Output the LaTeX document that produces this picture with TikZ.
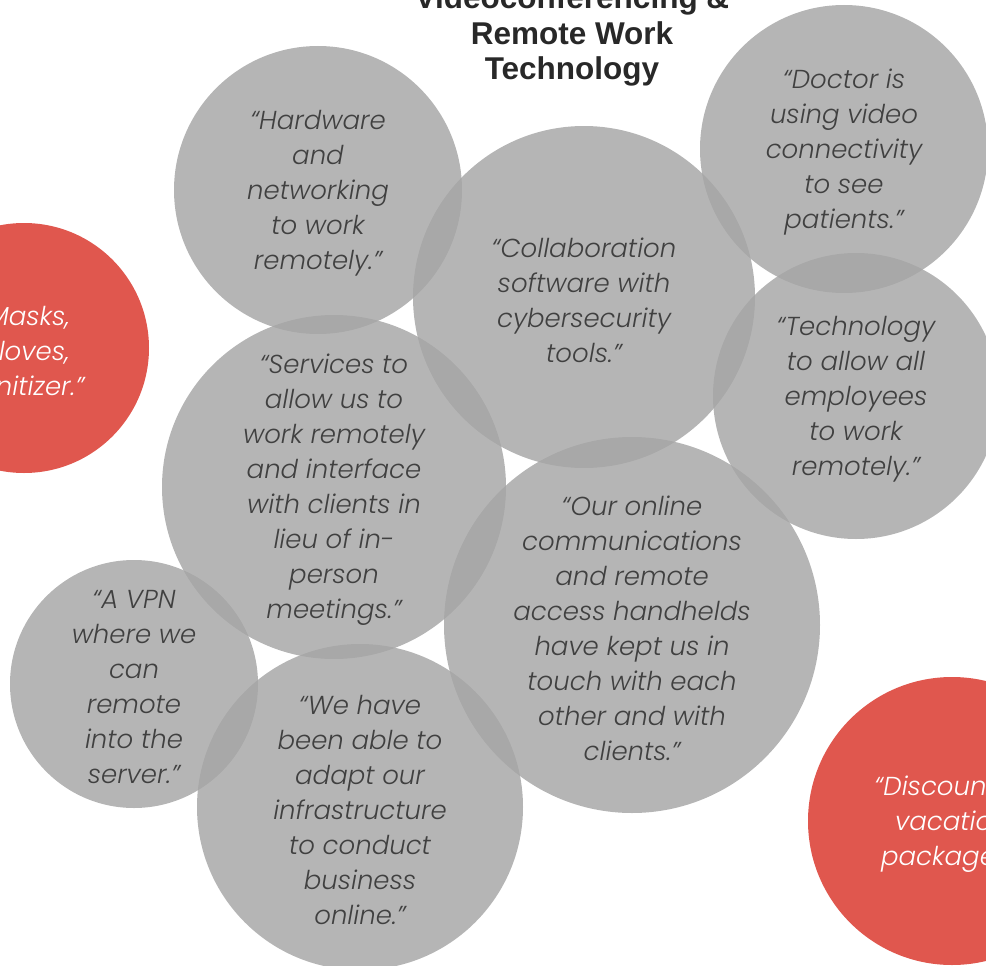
\documentclass[tikz,border=0pt]{standalone}
\usepackage{fontspec}
\setmainfont{Poppins}[UprightFont=* Light, ItalicFont=* Light Italic]
\newfontfamily\titlefont{Liberation Sans}
\usetikzlibrary{positioning}

\definecolor{bubblegray}{RGB}{165,165,165}
\definecolor{bubblered}{RGB}{224,87,78}
\definecolor{quotegray}{RGB}{64,64,64}
\definecolor{titlegray}{RGB}{40,40,40}

\begin{document}
\begin{tikzpicture}[x=1pt,y=1pt]
    \tikzstyle{bubble}=[circle,fill=bubblegray,fill opacity=0.82,inner sep=0pt]
    \tikzstyle{redbubble}=[circle,fill=bubblered,inner sep=0pt]
    \tikzstyle{quote}=[align=center,inner sep=0pt,yshift=-3,text=quotegray,font=\itshape\fontsize{26}{35}\selectfont]
    \tikzstyle{redquote}=[quote,text=white]
    \tikzstyle{heading}=[align=center,inner sep=0pt,text=titlegray,font=\titlefont\bfseries\fontsize{31.5}{35.5}\selectfont]

    \useasboundingbox (0,0) rectangle (986,-966);
    \clip (0,0) rectangle (986,-966);

    %%% DRAW THE BUBBLES
    \foreach \name / \x / \y / \r in {hw/318/190/144, collab/584/297/171, doctor/844/149/144,
                                      tech/856/396/143, services/334/487/172, online/632/625/188,
                                      vpn/134/684/124, infra/360/807/163}
        \node[bubble,minimum size=2*\r] (c-\name) at (\x,-\y) {};
    \foreach \name / \x / \y / \r in {masks/24/348/125, discount/952/821/144}
        \node[redbubble,minimum size=2*\r] (c-\name) at (\x,-\y) {};

    %%% QUOTES
    \node[quote] (t-hw) at (c-hw) {“Hardware\\and\\networking\\to work\\remotely.”};
    \node[quote] (t-collab) at (c-collab) {“Collaboration\\software with\\cybersecurity\\tools.”};
    \node[quote] (t-doctor) at (c-doctor) {“Doctor is\\using video\\connectivity\\to see\\patients.”};
    \node[quote] (t-tech) at (c-tech) {“Technology\\to allow all\\employees\\to work\\remotely.”};
    \node[quote] (t-services) at (c-services) {“Services to\\allow us to\\work remotely\\and interface\\with clients in\\lieu of in-\\person\\meetings.”};
    \node[quote] (t-online) at (c-online) {“Our online\\communications\\and remote\\access handhelds\\have kept us in\\touch with each\\other and with\\clients.”};
    \node[quote] (t-vpn) at (c-vpn) {“A VPN\\where we\\can\\remote\\into the\\server.”};
    \node[quote] (t-infra) at (c-infra) {“We have\\been able to\\adapt our\\infrastructure\\to conduct\\business\\online.”};
    \node[redquote] (t-masks) at (c-masks) {“Masks,\\Gloves,\\Sanitizer.”};
    \node[redquote] (t-discount) at (c-discount) {“Discounted\\vacation\\packages.”};

    %%% TITLE
    \node[heading,anchor=base] (title) at (572,-80) {Videoconferencing \&\\Remote Work\\Technology};

\end{tikzpicture}
\end{document}
